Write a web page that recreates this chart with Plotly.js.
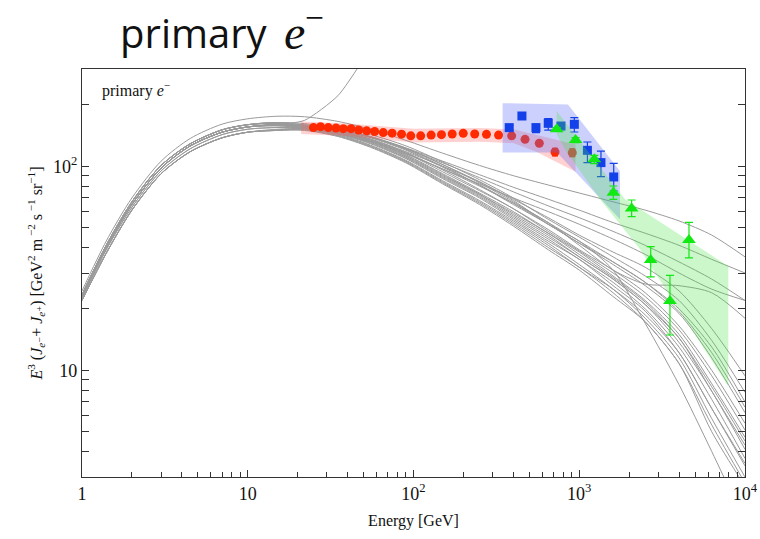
<!DOCTYPE html>
<html>
<head>
<meta charset="utf-8">
<script src="https://cdn.plot.ly/plotly-3.0.1.min.js"></script>
<style>html,body{margin:0;padding:0;background:#fff}</style>
</head>
<body>
<div id="chart" style="width:760px;height:539px"></div>
<script>
// ---- Model curves (gray) : energy grid [GeV] and E^3 flux values ----
const energy = [1, 1.4, 2, 3, 4.5, 7, 10, 15, 22, 35, 55, 90, 150, 250, 400, 650, 1000, 1600, 2500, 4000, 6300, 10000];
const energySteep = [1, 1.4, 2, 3, 4.5, 7, 10, 15, 22, 35, 55];
const model01 = [24.5, 43, 70, 106, 137, 161, 171, 176, 175, 166, 152, 134, 116, 101, 90, 81, 74, 67, 61, 54, 46, 36];
const model02 = [23, 40, 65, 98, 126, 147, 156, 160, 168, 222, 380];
const model03 = [23, 40, 65, 98, 126, 147, 156, 160, 159, 151, 139, 123, 106, 91, 79, 69, 61, 53, 47, 41, 35, 30];
const model04 = [23.5, 41, 67, 101, 129, 151, 160, 164, 162, 153, 140, 122, 104, 88, 75, 64, 56, 48, 41, 34, 28, 22];
const model05 = [23, 40, 65, 98, 126, 147, 156, 160, 158, 148, 134, 116, 97, 80, 66, 53, 41, 31, 26.5, 26, 24, 18];
const model06 = [22, 37.5, 61, 92, 118, 138, 147, 150, 153, 145, 132, 115, 97, 82, 70, 60, 52, 44, 37, 30, 25, 22];
const model07 = [23.5, 41, 67, 101, 129, 151, 160, 164, 160, 154, 143, 126, 105, 86, 70, 55, 45, 36, 29, 22, 14, 7.8];
const model08 = [23, 40, 65, 98, 126, 147, 156, 160, 159, 152, 140, 123, 102, 83, 67, 53, 43, 34, 27, 20, 13, 7];
const model09 = [23.5, 41, 67, 101, 129, 151, 160, 164, 158, 151, 139, 121, 100, 81, 65, 52, 42, 33, 26, 19, 11.5, 6.2];
const model10 = [23, 40, 65, 98, 126, 147, 156, 160, 157, 149, 136, 117, 96, 77, 62, 49, 39, 31, 24, 16.5, 10, 5.5];
const model11 = [23, 40, 65, 98, 126, 147, 156, 160, 156, 148, 134, 114, 92, 74, 60, 47, 38, 29, 22, 15, 8.6, 4.7];
const model12 = [23, 40, 65, 98, 126, 147, 156, 158, 155, 146, 132, 112, 90, 73, 58, 46, 36, 28, 21, 13.7, 7.9, 4.1];
const model13 = [22.5, 39, 63, 95, 122, 143, 152, 155, 155, 145, 130, 110, 88, 71, 56, 44, 35, 27, 20, 13, 7.2, 3.7];
const model14 = [23, 40, 65, 98, 126, 147, 156, 158, 154, 144, 129, 109, 87, 70, 55, 43, 35, 26, 19.5, 12.2, 6.5, 3.4];
const model15 = [22, 37.5, 61, 92, 118, 138, 147, 152, 153, 143, 127, 107, 85, 68, 54, 42, 33, 25, 18, 11.5, 5.8, 3.0];
const model16 = [22, 37.5, 61, 92, 118, 138, 147, 150, 151, 141, 125, 105, 83, 66, 52, 40, 32, 24, 17.3, 10.8, 5, 2.7];
const model17 = [22, 37.5, 61, 92, 118, 138, 147, 150, 150, 140, 124, 104, 82, 65, 51, 39, 31, 23, 17.3, 10.8, 5.4, 2.8];
const model18 = [23.5, 41, 67, 101, 129, 151, 160, 162, 157, 149, 136, 118, 100, 84, 68, 52, 43, 31, 17, 8.5, 4, 1.8];
const model19 = [23, 40, 65, 98, 126, 147, 156, 160, 159, 151, 139, 122, 102, 84, 69, 56, 46, 38, 32, 24.5, 16, 9.4];
const model20 = [23.5, 41, 67, 101, 129, 151, 160, 162, 156, 147, 133, 113, 91, 73, 59, 47, 37, 28.5, 21.6, 14.4, 8.3, 4.5];
const model21 = [22.5, 39, 63, 95, 122, 143, 152, 155, 154, 145, 131, 111, 89, 72, 57, 45, 36, 28, 21, 14.4, 7.9, 4.3];
const model22 = [22, 37.5, 61, 92, 118, 138, 147, 151, 152, 142, 126, 106, 84, 67, 53, 41, 32, 25, 18.7, 12.2, 6.5, 3.5];
const model23 = [23, 40, 65, 98, 126, 147, 156, 160, 158, 150, 138, 120, 99, 81, 66, 52, 42, 34, 27, 19.4, 12.2, 6.6];
const model24 = [23.5, 41, 67, 101, 129, 151, 160, 162, 156, 148, 135, 116, 94, 76, 62, 48, 38.5, 30, 23, 15.8, 9.4, 5.1];

// ---- Red points (with systematic band) ----
const redE = [24.9, 27.5, 30.6, 34.1, 37.7, 42.0, 46.7, 52.2, 58.3, 65.7, 74.3, 84.7, 96.3, 110.5, 127.8, 147.5, 171.2, 199.5, 234, 275.6, 326, 391, 471, 574, 714, 908];
const redV = [154.8, 156.5, 154.8, 154.1, 153.0, 153.0, 150.7, 149.3, 148.1, 146.3, 145.4, 143.8, 141.1, 141.1, 142.3, 143.0, 144.0, 145.1, 144.0, 143.5, 142.3, 141.1, 135.6, 129.7, 117.5, 116.7];
const redErr = [0, 0, 0, 0, 0, 0, 0, 0, 0, 0, 0, 0, 0, 0, 0, 0, 0, 0, 0, 0, 0, 0, 0, 0, 5, 5];
const redBandE = [21, 40, 100, 250, 400, 550, 950, 950, 550, 400, 250, 100, 40, 21];
const redBandV = [166, 162, 153, 154, 152, 143, 128, 94, 118, 130, 132, 131, 141, 144];

// ---- Blue squares (with band) ----
const blueE = [378, 451, 548, 650, 776, 934, 1120, 1352, 1614];
const blueV = [154.8, 176.5, 154.8, 162.5, 157.6, 160.7, 119.8, 104.3, 88.7];
const blueErrUp = [4, 5, 6, 9, 4, 12.7, 11.8, 14.5, 14.7];
const blueErrDown = [4, 5, 8.5, 12, 4, 13.4, 15.5, 15.3, 13];
const blueBandE = [345, 855, 1762, 1762, 734, 345];
const blueBandV = [204, 201, 94.5, 55, 117, 117];

// ---- Green triangles (with band) ----
const greenE = [731, 951, 1233, 1606, 2070, 2698, 3526, 4592];
const greenV = [151.8, 134.5, 108.2, 74.3, 62.2, 34.7, 21.9, 43.6];
const greenErrUp = [3, 4, 5, 5.8, 6.2, 5.7, 7.3, 9.5];
const greenErrDown = [3, 4, 5, 5.4, 5.5, 6, 7, 8];
const greenBandE = [731, 1888, 7930, 7930, 2326, 1334, 820, 731];
const greenBandV = [186.7, 68.9, 32.4, 8.35, 39.2, 68.9, 121, 143.5];

// ---- Ticks ----
const xMajorVals = [1, 10, 100, 1000, 10000];
const xMajorText = ['1', '10', '10<sup>2</sup>', '10<sup>3</sup>', '10<sup>4</sup>'];
const xMinorVals = [2,3,4,5,6,7,8,9,20,30,40,50,60,70,80,90,200,300,400,500,600,700,800,900,2000,3000,4000,5000,6000,7000,8000,9000];
const yMajorVals = [10, 100];
const yMajorText = ['10', '10<sup>2</sup>'];
const yMinorVals = [3,4,5,6,7,8,9,20,30,40,50,60,70,80,90,200,300];

const models = [model01, model03, model04, model05, model06, model07, model08, model09, model10, model11, model12,
  model13, model14, model15, model16, model17, model18, model19, model20, model21, model22, model23, model24];

const traces = [];
models.forEach(m => traces.push({
  x: energy, y: m, type: 'scatter', mode: 'lines',
  line: {color: '#9a9a9a', width: 1, shape: 'spline', smoothing: 0.8}, hoverinfo: 'skip'
}));
traces.push({x: energySteep, y: model02, type: 'scatter', mode: 'lines',
  line: {color: '#9a9a9a', width: 1, shape: 'spline', smoothing: 0.6}, hoverinfo: 'skip'});

traces.push({x: redBandE, y: redBandV, type: 'scatter', mode: 'lines', fill: 'toself',
  fillcolor: 'rgba(255,90,90,0.28)', line: {width: 0}, hoverinfo: 'skip'});
traces.push({x: redE, y: redV, type: 'scatter', mode: 'markers',
  marker: {symbol: 'circle', size: 9, color: '#ff2a00'},
  error_y: {type: 'data', array: redErr, visible: true, color: '#ff2a00', thickness: 1.2, width: 3}});

traces.push({x: blueBandE, y: blueBandV, type: 'scatter', mode: 'lines', fill: 'toself',
  fillcolor: 'rgba(95,110,245,0.32)', line: {width: 0}, hoverinfo: 'skip'});
traces.push({x: blueE, y: blueV, type: 'scatter', mode: 'markers',
  marker: {symbol: 'square', size: 9, color: '#1340e8'},
  error_y: {type: 'data', symmetric: false, array: blueErrUp, arrayminus: blueErrDown, visible: true, color: '#1340e8', thickness: 1.2, width: 4}});

traces.push({x: greenBandE, y: greenBandV, type: 'scatter', mode: 'lines', fill: 'toself',
  fillcolor: 'rgba(70,225,70,0.28)', line: {width: 0}, hoverinfo: 'skip'});
traces.push({x: greenE, y: greenV, type: 'scatter', mode: 'markers',
  marker: {symbol: 'triangle-up', size: 12, color: '#12e812'},
  error_y: {type: 'data', symmetric: false, array: greenErrUp, arrayminus: greenErrDown, visible: true, color: '#12e812', thickness: 1.2, width: 4}});

const axisCommon = {
  type: 'log', showgrid: false, zeroline: false, showline: true, linecolor: '#333', linewidth: 1.2,
  ticks: 'inside', ticklen: 7, tickwidth: 1, tickcolor: '#333', tickmode: 'array',
  tickfont: {family: 'Liberation Serif, serif', size: 18, color: '#111'}
};

const layout = {
  width: 760, height: 539,
  margin: {l: 82, r: 15, t: 69, b: 62},
  paper_bgcolor: '#fff', plot_bgcolor: '#fff',
  showlegend: false,
  font: {family: 'Liberation Serif, serif', color: '#111'},
  title: {
    text: 'primary',
    font: {family: 'Open Sans, sans-serif', size: 40, color: '#111'},
    xref: 'container', yref: 'container', x: 0.158, xanchor: 'left', y: 0.937, yanchor: 'middle'
  },
  xaxis: Object.assign({}, axisCommon, {
    range: [0, 4], mirror: true, tickvals: xMajorVals, ticktext: xMajorText,
    minor: {tickmode: 'array', tickvals: xMinorVals, ticks: 'inside', ticklen: 5, tickcolor: '#333', tickwidth: 1},
    title: {text: 'Energy [GeV]', font: {family: 'Liberation Serif, serif', size: 16, color: '#111'}, standoff: 12}
  }),
  yaxis: Object.assign({}, axisCommon, {
    range: [Math.log10(3), Math.log10(300)], mirror: 'ticks', tickvals: yMajorVals, ticktext: yMajorText,
    minor: {tickmode: 'array', tickvals: yMinorVals, ticks: 'inside', ticklen: 7, tickcolor: '#333', tickwidth: 1},
    title: {text: '<i>E</i><sup>3</sup> (<i>J</i><sub><i>e</i><span style="font-family:DejaVu Serif">⁻</span></sub>+ <i>J</i><sub><i>e</i><span style="font-family:DejaVu Serif">⁺</span></sub>) [GeV<sup>2</sup> m<sup> −2</sup> s<sup> −1</sup> sr<sup>−1</sup>]',
      font: {family: 'Liberation Serif, serif', size: 16, color: '#111'}, standoff: 6}
  }),
  annotations: [
    {
      text: 'primary <i>e</i><sup>−</sup>', xref: 'paper', yref: 'paper', x: 0.027, y: 0.95,
      xanchor: 'left', yanchor: 'middle', showarrow: false,
      font: {family: 'Liberation Serif, serif', size: 16, color: '#111'}
    },
    {
      text: '<i>e</i><sup>−</sup>', xref: 'paper', yref: 'paper', x: 0.301, y: 1.098,
      xanchor: 'left', yanchor: 'middle', showarrow: false,
      font: {family: 'Liberation Serif, serif', size: 48, color: '#111'}
    }
  ]
};

Plotly.newPlot('chart', traces, layout, {displayModeBar: false, staticPlot: true});
</script>
</body>
</html>
